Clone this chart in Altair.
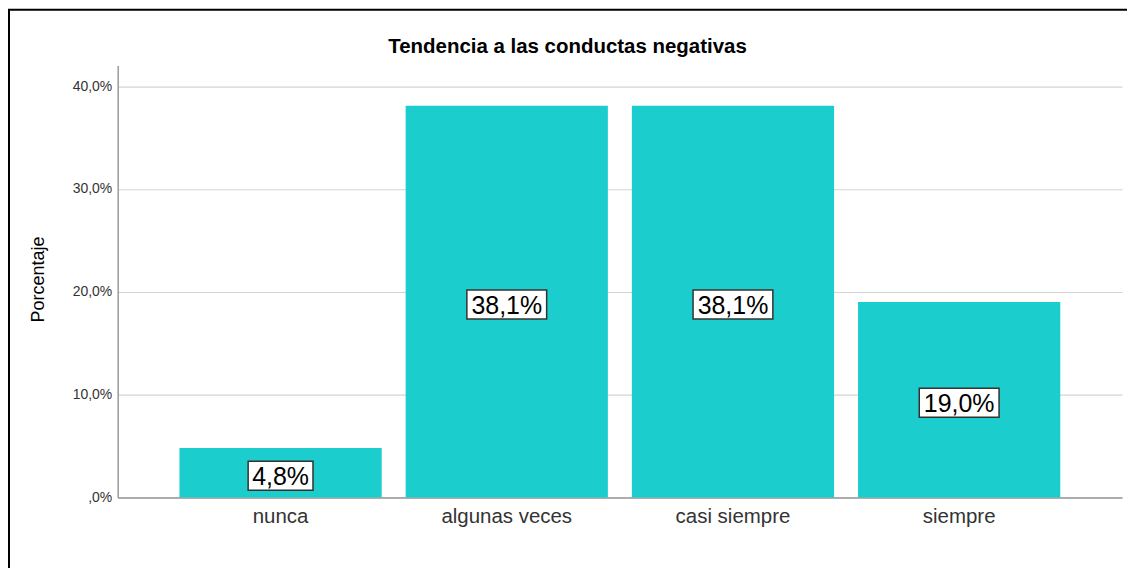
import altair as alt
import pandas as pd

categories = ["nunca", "algunas veces", "casi siempre", "siempre"]
values = [4.8, 38.1, 38.1, 19.0]
labels = [f"{v:.1f}".replace(".", ",") + "%" for v in values]
title_text = ["Tendencia a las conductas negativas"]

df = pd.DataFrame({"cat": categories, "val": values, "label": labels})
df_title = pd.DataFrame({"t": title_text})

FONT = "Liberation Sans"
BAR = "#1ccdcd"

x = alt.X(
    "cat:N",
    sort=categories,
    scale=alt.Scale(paddingInner=0.106, paddingOuter=0.273),
    axis=alt.Axis(
        title=None, labelAngle=0, ticks=False, labelFontSize=20.5, labelFont=FONT,
        labelColor="#333333", labelPadding=9, domainColor="#9a9a9a", domainWidth=1.5,
        grid=False,
    ),
)

bars = alt.Chart(df).mark_bar(color=BAR).encode(
    x=x,
    y=alt.Y(
        "val:Q",
        scale=alt.Scale(domain=[0, 42], nice=False),
        axis=alt.Axis(
            title="Porcentaje", values=[0, 10, 20, 30, 40], ticks=False,
            labelExpr="datum.value == 0 ? ',0%' : replace(format(datum.value, '.1f'), '.', ',') + '%'",
            labelFontSize=14, labelFont=FONT, labelColor="#333333", labelPadding=6,
            domainColor="#9a9a9a", domainWidth=1.5, gridColor="#d4d4d4", gridWidth=1.2,
            titleFont=FONT, titleFontSize=18, titleFontWeight="normal", titleColor="#000000",
            titleX=-79, titleY=214, titleBaseline="middle", titleAngle=-90,
        ),
    ),
)

base = alt.Chart(df).transform_calculate(mid="datum.val / 2", n="length(datum.label)")

box5 = base.transform_filter("datum.n == 5").mark_rect(
    width=80, height=29, fill="white", stroke="#333333", strokeWidth=1.5
).encode(x=alt.X("cat:N", sort=categories), y="mid:Q", yOffset=alt.value(3))

box4 = base.transform_filter("datum.n == 4").mark_rect(
    width=65, height=29, fill="white", stroke="#333333", strokeWidth=1.5
).encode(x=alt.X("cat:N", sort=categories), y="mid:Q", yOffset=alt.value(3))

text = base.mark_text(
    font=FONT, fontSize=25, color="#000000", baseline="middle", align="center", dy=4
).encode(x=alt.X("cat:N", sort=categories), y="mid:Q", text="label:N")

title = alt.Chart(df_title).mark_text(
    font=FONT, fontSize=20.5, fontWeight="bold", color="#000000", align="center",
    baseline="alphabetic"
).encode(x=alt.value(451), y=alt.value(-13), text="t:N")

frame = alt.Chart(df_title).mark_rect(
    fill="white", fillOpacity=0, stroke="#000000", strokeWidth=2
).encode(
    x=alt.value(-109), x2=alt.value(1100), y=alt.value(-56), y2=alt.value(600)
)

chart = alt.layer(bars, box5, box4, text, title, frame).properties(
    width=1007,
    height=433,
    autosize=alt.AutoSizeParams(type="none"),
    padding={"left": 110, "top": 57, "right": 5, "bottom": 70},
).configure_view(stroke=None)

chart.save("out.html", embed_options={"renderer": "svg", "actions": False})
